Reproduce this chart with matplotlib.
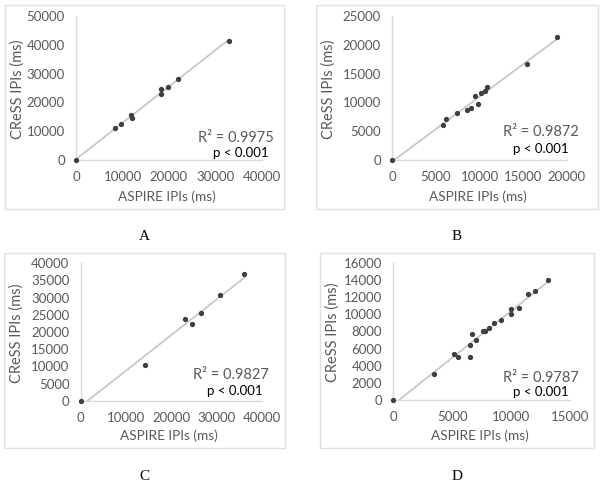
import matplotlib
matplotlib.use("Agg")
import matplotlib.pyplot as plt
from matplotlib.patches import Rectangle
import numpy as np

plt.rcParams["font.family"] = ["Lato", "DejaVu Sans"]

W, H = 601, 482

# --- data (ms) ---
a_x = [0, 8450, 9680, 11830, 12100, 18340, 18340, 19780, 21870, 32900]
a_y = [0, 11200, 12400, 15600, 14700, 24750, 23000, 25350, 28000, 41400]

b_x = [0, 5830, 6210, 7380, 8610, 9030, 9520, 9830, 10130, 10630, 10890, 15430, 18860]
b_y = [0, 6080, 7070, 8100, 8740, 9030, 11060, 9720, 11690, 12040, 12730, 16720, 21350]

c_x = [0, 14310, 23120, 24590, 26700, 30820, 36170]
c_y = [0, 10400, 23800, 22430, 25460, 30790, 36910]

d_x = [0, 3430, 5180, 5470, 6490, 6540, 6650, 7000, 7590, 7760, 8150, 8520,
       9140, 9990, 9990, 10700, 11430, 12030, 13160]
d_y = [0, 3030, 5360, 5010, 5010, 6370, 7660, 7030, 8000, 8000, 8350, 9010,
       9360, 10020, 10640, 10690, 12350, 12670, 14020]

r2_text = ["R² = 0.9975", "R² = 0.9872", "R² = 0.9827", "R² = 0.9787"]
panel_letters = ["A", "B", "C", "D"]

x_ticks = [np.arange(0, 40001, 10000), np.arange(0, 20001, 5000),
           np.arange(0, 40001, 10000), np.arange(0, 15001, 5000)]
y_ticks = [np.arange(0, 50001, 10000), np.arange(0, 25001, 5000),
           np.arange(0, 40001, 5000), np.arange(0, 16001, 2000)]

# --- layout in pixels ---
# plot areas: left, right, bottom, top
plot_px = [(76, 262, 160, 16), (392, 567, 160, 16),
           (80.5, 261.7, 400.7, 263.3), (393.3, 570, 400, 262.7)]
# grey frames around each chart: left, top, right, bottom
frame_px = [(5, 5, 284, 209), (316, 5, 598, 209),
            (4, 253, 285, 448), (320, 253, 594, 448)]
r2_px = [(198, 138), (503, 132), (193, 375), (503, 378)]
p_px = [(213, 153), (513, 149), (207, 391), (513, 392)]
letter_px = [(144, 237), (457, 237), (144, 476), (457, 476)]


def fx(px):
    return px / W


def fy(py):
    return 1 - py / H


fig = plt.figure(figsize=(W / 100, H / 100), dpi=100)
fig.patch.set_facecolor("white")

data = [(a_x, a_y), (b_x, b_y), (c_x, c_y), (d_x, d_y)]
grey = "#595959"

for i, (xs, ys) in enumerate(data):
    l, r, b, t = plot_px[i]
    ax = fig.add_axes([fx(l), fy(b), (r - l) / W, (b - t) / H])

    # linear trendline over the data range
    k, c0 = np.polyfit(xs, ys, 1)
    xx = np.array([0, max(xs)])
    ax.plot(xx, k * xx + c0, color="#c8c8c8", lw=1.3, zorder=1)
    ax.plot(xs, ys, "o", color="#404040", ms=2.8, zorder=3, clip_on=False)

    ax.set_xlim(x_ticks[i][0], x_ticks[i][-1])
    ax.set_ylim(y_ticks[i][0], y_ticks[i][-1])
    ax.set_xticks(x_ticks[i])
    ax.set_yticks(y_ticks[i])
    ax.tick_params(length=0, labelsize=9.5, colors=grey, pad=8)
    for s in ["top", "right"]:
        ax.spines[s].set_visible(False)
    for s in ["left", "bottom"]:
        ax.spines[s].set_color("#d9d9d9")
        ax.spines[s].set_linewidth(1)

    ax.set_xlabel("ASPIRE IPIs (ms)", fontsize=9.8, color=grey, va="center")
    ax.set_ylabel("CReSS IPIs (ms)", fontsize=10.5, color=grey, va="center")
    fl, ft, fr, fb = frame_px[i]
    ax.xaxis.set_label_coords(fx((l + r) / 2 - 2), fy(fb - 12), transform=fig.transFigure)
    ax.yaxis.set_label_coords(fx(fl + 13), fy((t + b) / 2 + 1), transform=fig.transFigure)

    fig.text(fx(r2_px[i][0]), fy(r2_px[i][1]), r2_text[i], fontsize=10.5,
             color=grey, va="center", ha="left")
    fig.text(fx(p_px[i][0]), fy(p_px[i][1]), "p < 0.001", fontsize=9.5,
             color="black", va="center", ha="left")

    fig.patches.append(Rectangle((fx(fl), fy(fb)), (fr - fl) / W, (fb - ft) / H,
                                 transform=fig.transFigure, fill=False,
                                 edgecolor="#e0e0e0", lw=1))
    fig.text(fx(letter_px[i][0]), fy(letter_px[i][1]), panel_letters[i],
             fontsize=11, family="Liberation Serif", ha="center", va="center")

fig.savefig("out.png", dpi=100)
